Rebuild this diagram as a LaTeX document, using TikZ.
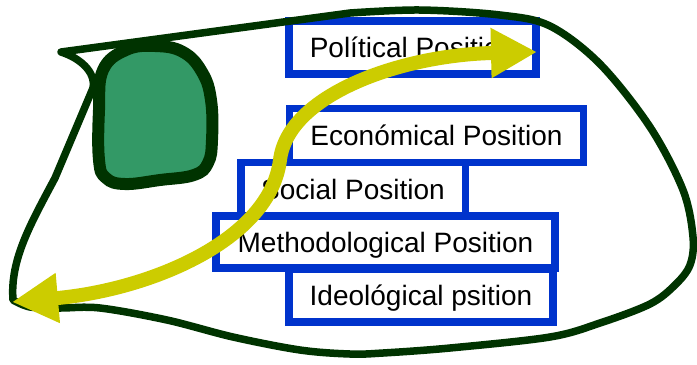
\documentclass[tikz,border=0pt]{standalone}
\usepackage{fontspec}
\setmainfont{Liberation Sans}
\usepackage{tikz}
\usetikzlibrary{arrows.meta}
\definecolor{azul}{HTML}{0033CC}
\definecolor{verdeosc}{HTML}{003300}
\definecolor{verdeclaro}{HTML}{339966}
\definecolor{amarillo}{HTML}{CCCC00}
\tikzset{
  posicion/.style={
    rectangle, draw=azul, line width=7.5bp, fill=white, inner sep=0pt,
    text height=20bp, text depth=0pt,
    font=\fontsize{28bp}{32bp}\selectfont
  },
  contorno/.style={draw=verdeosc, line width=7.5bp, line join=round, line cap=round},
  mancha/.style={draw=verdeosc, line width=12bp, fill=verdeclaro},
  flechaamarilla/.style={
    draw=amarillo, line width=14bp,
    {Triangle[length=46bp,width=47bp]}-{Triangle[length=46bp,width=47bp]}
  }
}

\begin{document}
\begin{tikzpicture}[x=1bp, y=-1bp]
\useasboundingbox (0,0) rectangle (697,364);
% Cajas de posiciones
\node (pol) [posicion, minimum width=247bp, minimum height=53bp] at (412.5,47.5) {Polítical Position};
\node (eco) [posicion, minimum width=294bp, minimum height=54bp] at (436.5,135.5) {Económical Position};
\node (soc) [posicion, minimum width=224.5bp, minimum height=53.5bp] at (353,189) {Social Position};
\node (met) [posicion, minimum width=339bp, minimum height=52bp] at (385.5,242) {Methodological Position};
\node (ide) [posicion, minimum width=264bp, minimum height=53bp] at (421,295.5) {Ideológical psition};
% Contorno verde
\draw[contorno] (61,52) -- plot[smooth, tension=0.55] coordinates {(350,13) (420,10) (500,15) (550,26) (600,64) (650,127) (683,190) (693,237) (690,265) (675,285) (650,304) (600,323) (550,337) (450,348) (383,353) (350,354) (300,350) (233,337) (167,320) (100,308) (60,308) (30,307) (13,300)}
  -- (13,300) .. controls (10,260) and (30,225) .. (55,178) -- (93,88)
  .. controls (96,72) and (80,58) .. cycle;
% Mancha
\draw[mancha] plot[smooth cycle, tension=0.7] coordinates {(99,110) (103,70) (126,50) (155,46) (183,52) (202,72) (211,100) (212,140) (208,163) (194,175) (160,180) (125,184) (106,178) (99,160)};
% Flecha doble
\coordinate (izq) at (12,302); \coordinate (der) at (537,52);
\draw[flechaamarilla] (izq) .. controls (150,290) and (270,240) .. (280,160) .. controls (288,95) and (400,55) .. (der);
\end{tikzpicture}
\end{document}
